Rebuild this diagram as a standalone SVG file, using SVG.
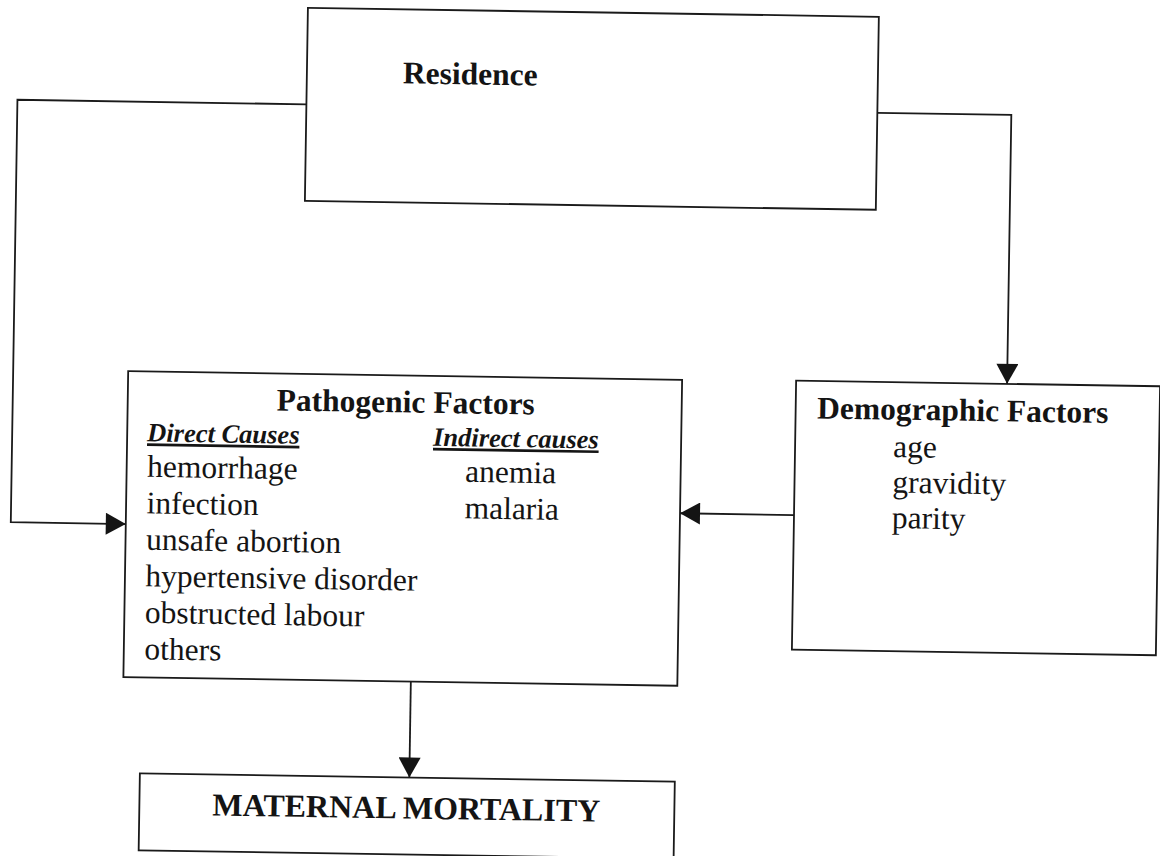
<svg xmlns="http://www.w3.org/2000/svg" width="1160" height="856" viewBox="0 0 1160 856">
  <style>
    .box { fill: none; stroke: #1a1a1a; stroke-width: 1.8; }
    .conn { fill: none; stroke: #1a1a1a; stroke-width: 1.8; }
    .hd { font-family: "Liberation Serif", "Times New Roman", serif; font-weight: bold; font-size: 31.5px; fill: #141414; }
    .sub { font-family: "Liberation Serif", "Times New Roman", serif; font-weight: bold; font-style: italic; font-size: 26.5px; fill: #141414; text-decoration: underline; }
    .it { font-family: "Liberation Serif", "Times New Roman", serif; font-size: 31.5px; fill: #141414; }
  </style>
  <defs>
    <marker id="arr" markerUnits="userSpaceOnUse" markerWidth="22" markerHeight="22" viewBox="0 0 20 22" refX="20" refY="11" orient="auto">
      <path d="M0,0 L20,11 L0,22 z" fill="#141414"/>
    </marker>
  </defs>
  <rect width="1160" height="856" fill="#ffffff"/>
  <g transform="rotate(0.9)">
    <g id="connectors">
      <path class="conn" d="M308,99.5 H19 V522 H134" marker-end="url(#arr)"/>
      <path class="conn" d="M879,99 H1013 V368" marker-end="url(#arr)"/>
      <path class="conn" d="M802,502.5 H688" marker-end="url(#arr)"/>
      <path class="conn" d="M421.5,675 V771" marker-end="url(#arr)"/>
    </g>
    <g id="residence">
      <rect class="box" x="308" y="3" width="571" height="193"/>
      <text class="hd" x="404" y="77">Residence</text>
    </g>
    <g id="pathogenic">
      <rect class="box" x="134" y="369" width="554" height="306"/>
      <text class="hd" x="283" y="406">Pathogenic Factors</text>
      <text class="sub" x="154" y="439">Direct Causes</text>
      <text class="sub" x="440" y="439">Indirect causes</text>
      <text class="it" x="154.5" y="474.5">hemorrhage</text>
      <text class="it" x="154.5" y="511">infection</text>
      <text class="it" x="154.5" y="547.5">unsafe abortion</text>
      <text class="it" x="154.5" y="584">hypertensive disorder</text>
      <text class="it" x="154.5" y="620.5">obstructed labour</text>
      <text class="it" x="154.5" y="657">others</text>
      <text class="it" x="472.5" y="474.5">anemia</text>
      <text class="it" x="472.5" y="511">malaria</text>
    </g>
    <g id="demographic">
      <rect class="box" x="802" y="368" width="364" height="269"/>
      <text class="hd" x="823.5" y="405.5">Demographic Factors</text>
      <text class="it" x="900" y="443">age</text>
      <text class="it" x="900" y="478.5">gravidity</text>
      <text class="it" x="900" y="514">parity</text>
    </g>
    <g id="maternal">
      <rect class="box" x="152" y="771" width="535" height="77"/>
      <text class="hd" x="225" y="812" style="font-size:32px">MATERNAL MORTALITY</text>
    </g>
  </g>
</svg>
